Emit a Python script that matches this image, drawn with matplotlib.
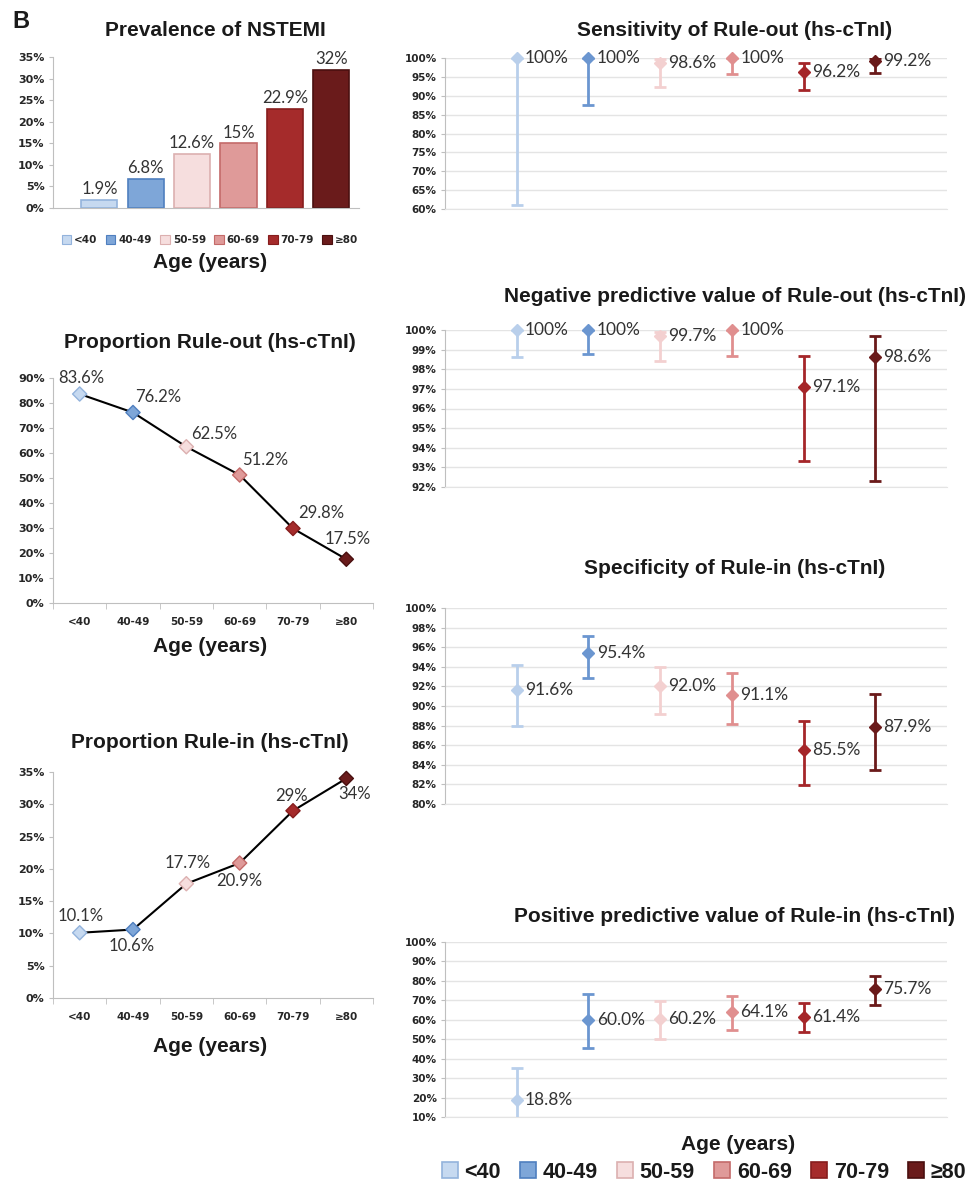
import matplotlib
matplotlib.use("Agg")
import matplotlib.pyplot as plt
from matplotlib.patches import Patch
import numpy as np

# ---------------- data ----------------
age_groups = ["<40", "40-49", "50-59", "60-69", "70-79", "≥80"]

prevalence = [1.9, 6.8, 12.6, 15, 22.9, 32]
rule_out_prop = [83.6, 76.2, 62.5, 51.2, 29.8, 17.5]
rule_in_prop = [10.1, 10.6, 17.7, 20.9, 29, 34]

sens = [100, 100, 98.6, 100, 96.2, 99.2]
sens_lo = [61.0, 87.6, 92.4, 95.8, 91.6, 95.9]
sens_hi = [100, 100, 99.7, 100, 98.7, 100]

npv = [100, 100, 99.7, 100, 97.1, 98.6]
npv_lo = [98.6, 98.8, 98.4, 98.7, 93.3, 92.3]
npv_hi = [100, 100, 99.9, 100, 98.7, 99.7]

spec = [91.6, 95.4, 92.0, 91.1, 85.5, 87.9]
spec_lo = [88.0, 92.9, 89.2, 88.2, 81.9, 83.5]
spec_hi = [94.2, 97.1, 94.0, 93.4, 88.5, 91.2]

ppv = [18.8, 60.0, 60.2, 64.1, 61.4, 75.7]
ppv_lo = [8.0, 45.3, 50.3, 54.9, 53.7, 67.7]
ppv_hi = [35.2, 73.1, 69.7, 72.2, 68.5, 82.3]

# ---------------- styling ----------------
fills = ["#c6d9f0", "#7ea6d8", "#f6dede", "#df9a99", "#a52b2b", "#6a1b1b"]
edges = ["#93b3dc", "#4f7fbf", "#dcb0b0", "#c46a69", "#861d1d", "#4a0f0f"]
marks = ["#b9cfeb", "#6b96d0", "#f3d0d0", "#e08f8f", "#a52629", "#6a1a1a"]

TITLE = dict(family="Liberation Sans", fontweight="bold", color="#1a1a1a")
TICK = dict(family="DejaVu Sans", fontweight="bold", color="#262626")
VAL = dict(family="Lato", color="#333333")
AXC = "#bfbfbf"
GRID = "#e4e4e4"

W, H = 968, 1185
fig = plt.figure(figsize=(W / 100, H / 100), dpi=100)


def px_axes(l, t, r, b):
    return fig.add_axes([l / W, 1 - b / H, (r - l) / W, (b - t) / H])


def ftext(x, y, s, **kw):
    fig.text(x / W, 1 - y / H, s, ha=kw.pop("ha", "center"), va=kw.pop("va", "center"), **kw)


def base_axis(ax, yticks, size):
    for s in ["top", "right"]:
        ax.spines[s].set_visible(False)
    ax.spines["left"].set_color(AXC)
    ax.spines["bottom"].set_color(AXC)
    ax.set_yticks(yticks)
    ax.set_yticklabels([f"{t}%" for t in yticks], fontsize=size, **TICK)
    ax.tick_params(axis="y", length=3, color=AXC, pad=3)
    ax.set_ylim(yticks[0], yticks[-1])


x = np.arange(1, 7)

# ---------------- Prevalence of NSTEMI ----------------
ax = px_axes(53, 57, 359, 208)
base_axis(ax, list(range(0, 36, 5)), 8)
ax.bar(x, prevalence, width=0.78, color=fills, edgecolor=edges, linewidth=1.2)
ax.set_xlim(0, 6.6)
ax.set_xticks([])
for xi, v in zip(x, prevalence):
    ax.annotate(f"{v:g}%", (xi, v), xytext=(0, 2), textcoords="offset points",
                ha="center", va="bottom", fontsize=12, **VAL)
ftext(12, 22, "B", ha="left", fontsize=17, **TITLE)
ftext(215, 30, "Prevalence of NSTEMI", fontsize=15, **TITLE)
small_handles = [Patch(facecolor=f, edgecolor=e, linewidth=0.8) for f, e in zip(fills, edges)]
fig.legend(small_handles, age_groups, loc="center", bbox_to_anchor=(210 / W, 1 - 240 / H),
           ncol=6, frameon=False, prop=dict(family="DejaVu Sans", weight="bold", size=7.5),
           handlelength=0.9, handleheight=0.9, handletextpad=0.3, columnspacing=0.8,
           labelcolor="#262626")
ftext(210, 263, "Age (years)", fontsize=15, **TITLE)


# ---------------- proportion line charts ----------------
def proportion_panel(top, bottom, vals, ymax, ystep, title, title_y, offsets, age_y):
    ax = px_axes(53, top, 373, bottom)
    base_axis(ax, list(range(0, ymax + 1, ystep)), 8)
    xs = np.arange(6)
    ax.set_xlim(-0.5, 5.5)
    ax.set_xticks(xs)
    ax.set_xticklabels(age_groups, fontsize=7.5, **TICK)
    ax.set_xticks(np.arange(-0.5, 6.0, 1.0), minor=True)
    ax.tick_params(axis="x", which="major", length=0, pad=10)
    ax.tick_params(axis="x", which="minor", length=4, color=AXC)
    ax.plot(xs, vals, color="black", lw=1.5, zorder=2, clip_on=False)
    ax.scatter(xs, vals, marker="D", s=52, c=fills, edgecolors=edges, linewidths=1,
               zorder=3, clip_on=False)
    for xi, v, (dx, dy) in zip(xs, vals, offsets):
        ax.annotate(f"{v:g}%", (xi, v), xytext=(dx, dy), textcoords="offset pixels",
                    ha="center", va="center", fontsize=12, **VAL)
    ftext(210, title_y, title, fontsize=15, **TITLE)
    ftext(210, age_y, "Age (years)", fontsize=15, **TITLE)


proportion_panel(378, 603, rule_out_prop, 90, 10, "Proportion Rule-out (hs-cTnI)", 342,
                 [(2, 16), (25, 15), (28, 13), (26, 15), (28, 16), (1, 20)], 647)
proportion_panel(772, 998, rule_in_prop, 35, 5, "Proportion Rule-in (hs-cTnI)", 743,
                 [(1, 17), (-1, -16), (1, 21), (0, -18), (-2, 15), (8, -16)], 1047)


# ---------------- diagnostic performance panels ----------------
def perf_panel(top, bottom, vals, lo, hi, yticks, title, title_y, fmt):
    ax = px_axes(445, top, 947, bottom)
    base_axis(ax, yticks, 7.5)
    ax.spines["bottom"].set_color(GRID)
    ax.yaxis.grid(True, color=GRID, lw=1)
    ax.set_axisbelow(True)
    ax.set_xlim(0, 7)
    ax.set_xticks([])
    for xi, v, l, h, c in zip(x, vals, lo, hi, marks):
        ax.errorbar(xi, v, yerr=[[v - l], [h - v]], fmt="none", ecolor=c,
                    elinewidth=2, capsize=4.5, capthick=2, zorder=3)
        ax.plot([xi], [v], marker="D", ms=6.5, color=c, mec=c, ls="none",
                zorder=4, clip_on=False)
        ax.annotate(fmt(v), (xi, v), xytext=(6, 0), textcoords="offset points",
                    ha="left", va="center", fontsize=12.5, **VAL)
    ftext(735, title_y, title, fontsize=15, **TITLE)
    return ax


perf_panel(58, 209, sens, sens_lo, sens_hi, list(range(60, 101, 5)),
           "Sensitivity of Rule-out (hs-cTnI)", 30, lambda v: f"{v:g}%")
perf_panel(330, 487, npv, npv_lo, npv_hi, list(range(92, 101, 1)),
           "Negative predictive value of Rule-out (hs-cTnI)", 296, lambda v: f"{v:g}%")
perf_panel(608, 804, spec, spec_lo, spec_hi, list(range(80, 101, 2)),
           "Specificity of Rule-in (hs-cTnI)", 568, lambda v: f"{v:.1f}%")
perf_panel(942, 1117, ppv, ppv_lo, ppv_hi, list(range(10, 101, 10)),
           "Positive predictive value of Rule-in (hs-cTnI)", 917, lambda v: f"{v:.1f}%")

ftext(738, 1145, "Age (years)", fontsize=15, **TITLE)
big_handles = [Patch(facecolor=f, edgecolor=e, linewidth=1.2) for f, e in zip(fills, edges)]
fig.legend(big_handles, age_groups, loc="center", bbox_to_anchor=(704 / W, 1 - 1172 / H),
           ncol=6, frameon=False, prop=dict(family="Liberation Sans", weight="bold", size=15.5),
           handlelength=0.75, handleheight=0.75, handletextpad=0.3, columnspacing=0.9,
           labelcolor="#1a1a1a")

fig.savefig("out.png", dpi=100, facecolor="white")
